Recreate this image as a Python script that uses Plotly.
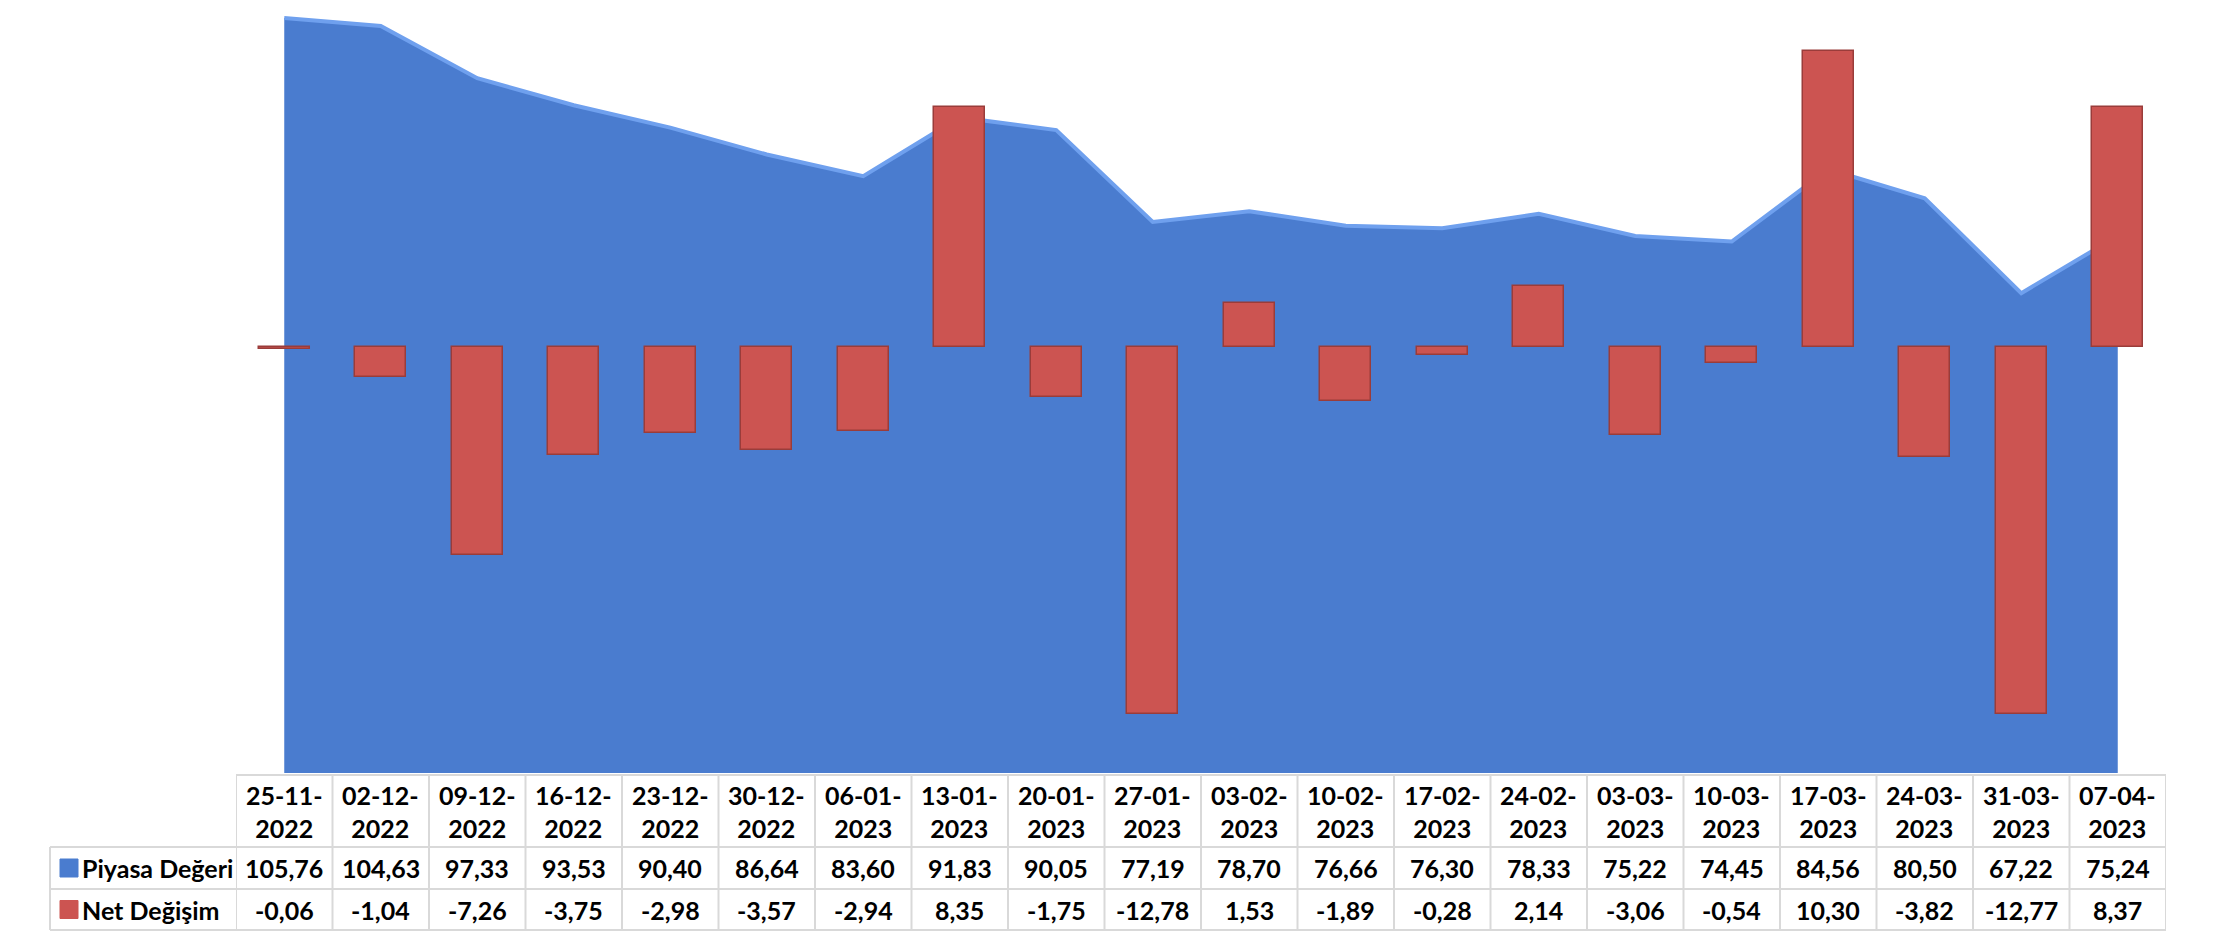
"""
Piyasa Degeri (area) and haftalik Net Degisim (bars) with an Excel style data table.
"""

# Import needed libraries
import plotly.graph_objects as go

dates = ['25-11-2022', '02-12-2022', '09-12-2022', '16-12-2022', '23-12-2022',
         '30-12-2022', '06-01-2023', '13-01-2023', '20-01-2023', '27-01-2023',
         '03-02-2023', '10-02-2023', '17-02-2023', '24-02-2023', '03-03-2023',
         '10-03-2023', '17-03-2023', '24-03-2023', '31-03-2023', '07-04-2023']

piyasa_degeri = [105.76, 104.63, 97.33, 93.53, 90.40, 86.64, 83.60, 91.83, 90.05, 77.19,
                 78.70, 76.66, 76.30, 78.33, 75.22, 74.45, 84.56, 80.50, 67.22, 75.24]

net_degisim = [-0.06, -1.04, -7.26, -3.75, -2.98, -3.57, -2.94, 8.35, -1.75, -12.78,
               1.53, -1.89, -0.28, 2.14, -3.06, -0.54, 10.30, -3.82, -12.77, 8.37]

series_names = ['Piyasa Değeri', 'Net Değişim']

W, H = 2213, 931

BLUE = '#4A7CCF'
BLUE_EDGE = '#6FA0EE'
RED = '#CC5451'
RED_EDGE = '#9A3C3A'
GRID = '#D9D9D9'
FONT = dict(family='Lato', size=25, weight='bold', color='black')


# pixel helpers for the table (paper coordinates)
def px_x(p):
    return p / W


def px_y(p):
    return (H - p) / H


def tr_num(v):
    return f'{v:.2f}'.replace('.', ',')


def build_figure():

    n = len(dates)
    idx = list(range(n))

    fig = go.Figure()

    # Piyasa Degeri area
    fig.add_trace(go.Scatter(
        x=idx, y=piyasa_degeri, name=series_names[0],
        mode='lines', fill='tozeroy',
        fillcolor=BLUE,
        line=dict(color=BLUE_EDGE, width=4),
        hoverinfo='skip',
    ))

    # Net Degisim bars on the secondary axis
    fig.add_trace(go.Bar(
        x=idx, y=net_degisim, name=series_names[1],
        yaxis='y2', width=0.53,
        marker=dict(color=RED, line=dict(color=RED_EDGE, width=1.5)),
        hoverinfo='skip',
    ))

    x_dom = [px_x(236), px_x(2166)]
    y_dom = [px_y(773), 1.0]

    fig.update_layout(
        width=W, height=H, autosize=False,
        margin={'l': 0, 'r': 0, 't': 0, 'b': 0},
        paper_bgcolor='white', plot_bgcolor='white',
        showlegend=False,
        bargap=0,
        xaxis=dict(domain=x_dom, range=[-0.5, n - 0.5], visible=False,
                   fixedrange=True),
        yaxis=dict(domain=y_dom, range=[0, 108.28], visible=False,
                   showgrid=False, zeroline=False),
        yaxis2=dict(overlaying='y', side='right', range=[-14.84, 12.09],
                    visible=False, showgrid=False, zeroline=False),
        font=dict(family='Lato', size=24, color='black'),
    )

    # ---- Data table under the plot ----
    shapes = []
    annotations = []

    top, r1, r2, bottom = 775, 847, 889, 930
    label_left = 50
    line = dict(color=GRID, width=2)

    # horizontal grid lines across the data columns
    for yy in [top, r1, r2, bottom]:
        shapes.append(dict(type='line', xref='x', yref='paper',
                           x0=-0.5, x1=n - 0.5, y0=px_y(yy), y1=px_y(yy), line=line))
    # horizontal lines of the label column
    for yy in [r1, r2, bottom]:
        shapes.append(dict(type='line', xref='paper', yref='paper',
                           x0=px_x(label_left), x1=x_dom[0], y0=px_y(yy), y1=px_y(yy),
                           line=line))
    # vertical column boundaries
    for i in range(n + 1):
        shapes.append(dict(type='line', xref='x', yref='paper',
                           x0=i - 0.5, x1=i - 0.5, y0=px_y(top), y1=px_y(bottom),
                           line=line))
    shapes.append(dict(type='line', xref='paper', yref='paper',
                       x0=px_x(label_left), x1=px_x(label_left),
                       y0=px_y(r1), y1=px_y(bottom), line=line))

    # header dates (two lines)
    for i, d in enumerate(dates):
        annotations.append(dict(
            xref='x', yref='paper', x=i, y=px_y((top + r1) / 2),
            text=d[:6] + '<br>' + d[6:], showarrow=False,
            xanchor='center', yanchor='middle', font=FONT,
        ))

    # value rows
    rows = [(piyasa_degeri, (r1 + r2) / 2), (net_degisim, (r2 + bottom) / 2)]
    for vals, yc in rows:
        for i, v in enumerate(vals):
            annotations.append(dict(
                xref='x', yref='paper', x=i, y=px_y(yc),
                text=tr_num(v), showarrow=False,
                xanchor='center', yanchor='middle', font=FONT,
            ))

    # legend keys and row labels
    keys = [(BLUE, (r1 + r2) / 2), (RED, (r2 + bottom) / 2)]
    for (col, yc), name in zip(keys, series_names):
        shapes.append(dict(type='rect', xref='paper', yref='paper',
                           x0=px_x(60), x1=px_x(78), y0=px_y(yc + 9), y1=px_y(yc - 9),
                           fillcolor=col, line=dict(color=col, width=1)))
        annotations.append(dict(
            xref='paper', yref='paper', x=px_x(80), y=px_y(yc),
            text=name, showarrow=False, xanchor='left', yanchor='middle', font=FONT,
        ))

    fig.update_layout(shapes=shapes, annotations=annotations)

    return fig


fig = build_figure()

# drop the default page margin so the figure sits at the window's corner
fig.write_html(
    "out.html",
    config={'displayModeBar': False},
    post_script="document.body.style.margin='0';document.body.style.overflow='hidden';",
)
